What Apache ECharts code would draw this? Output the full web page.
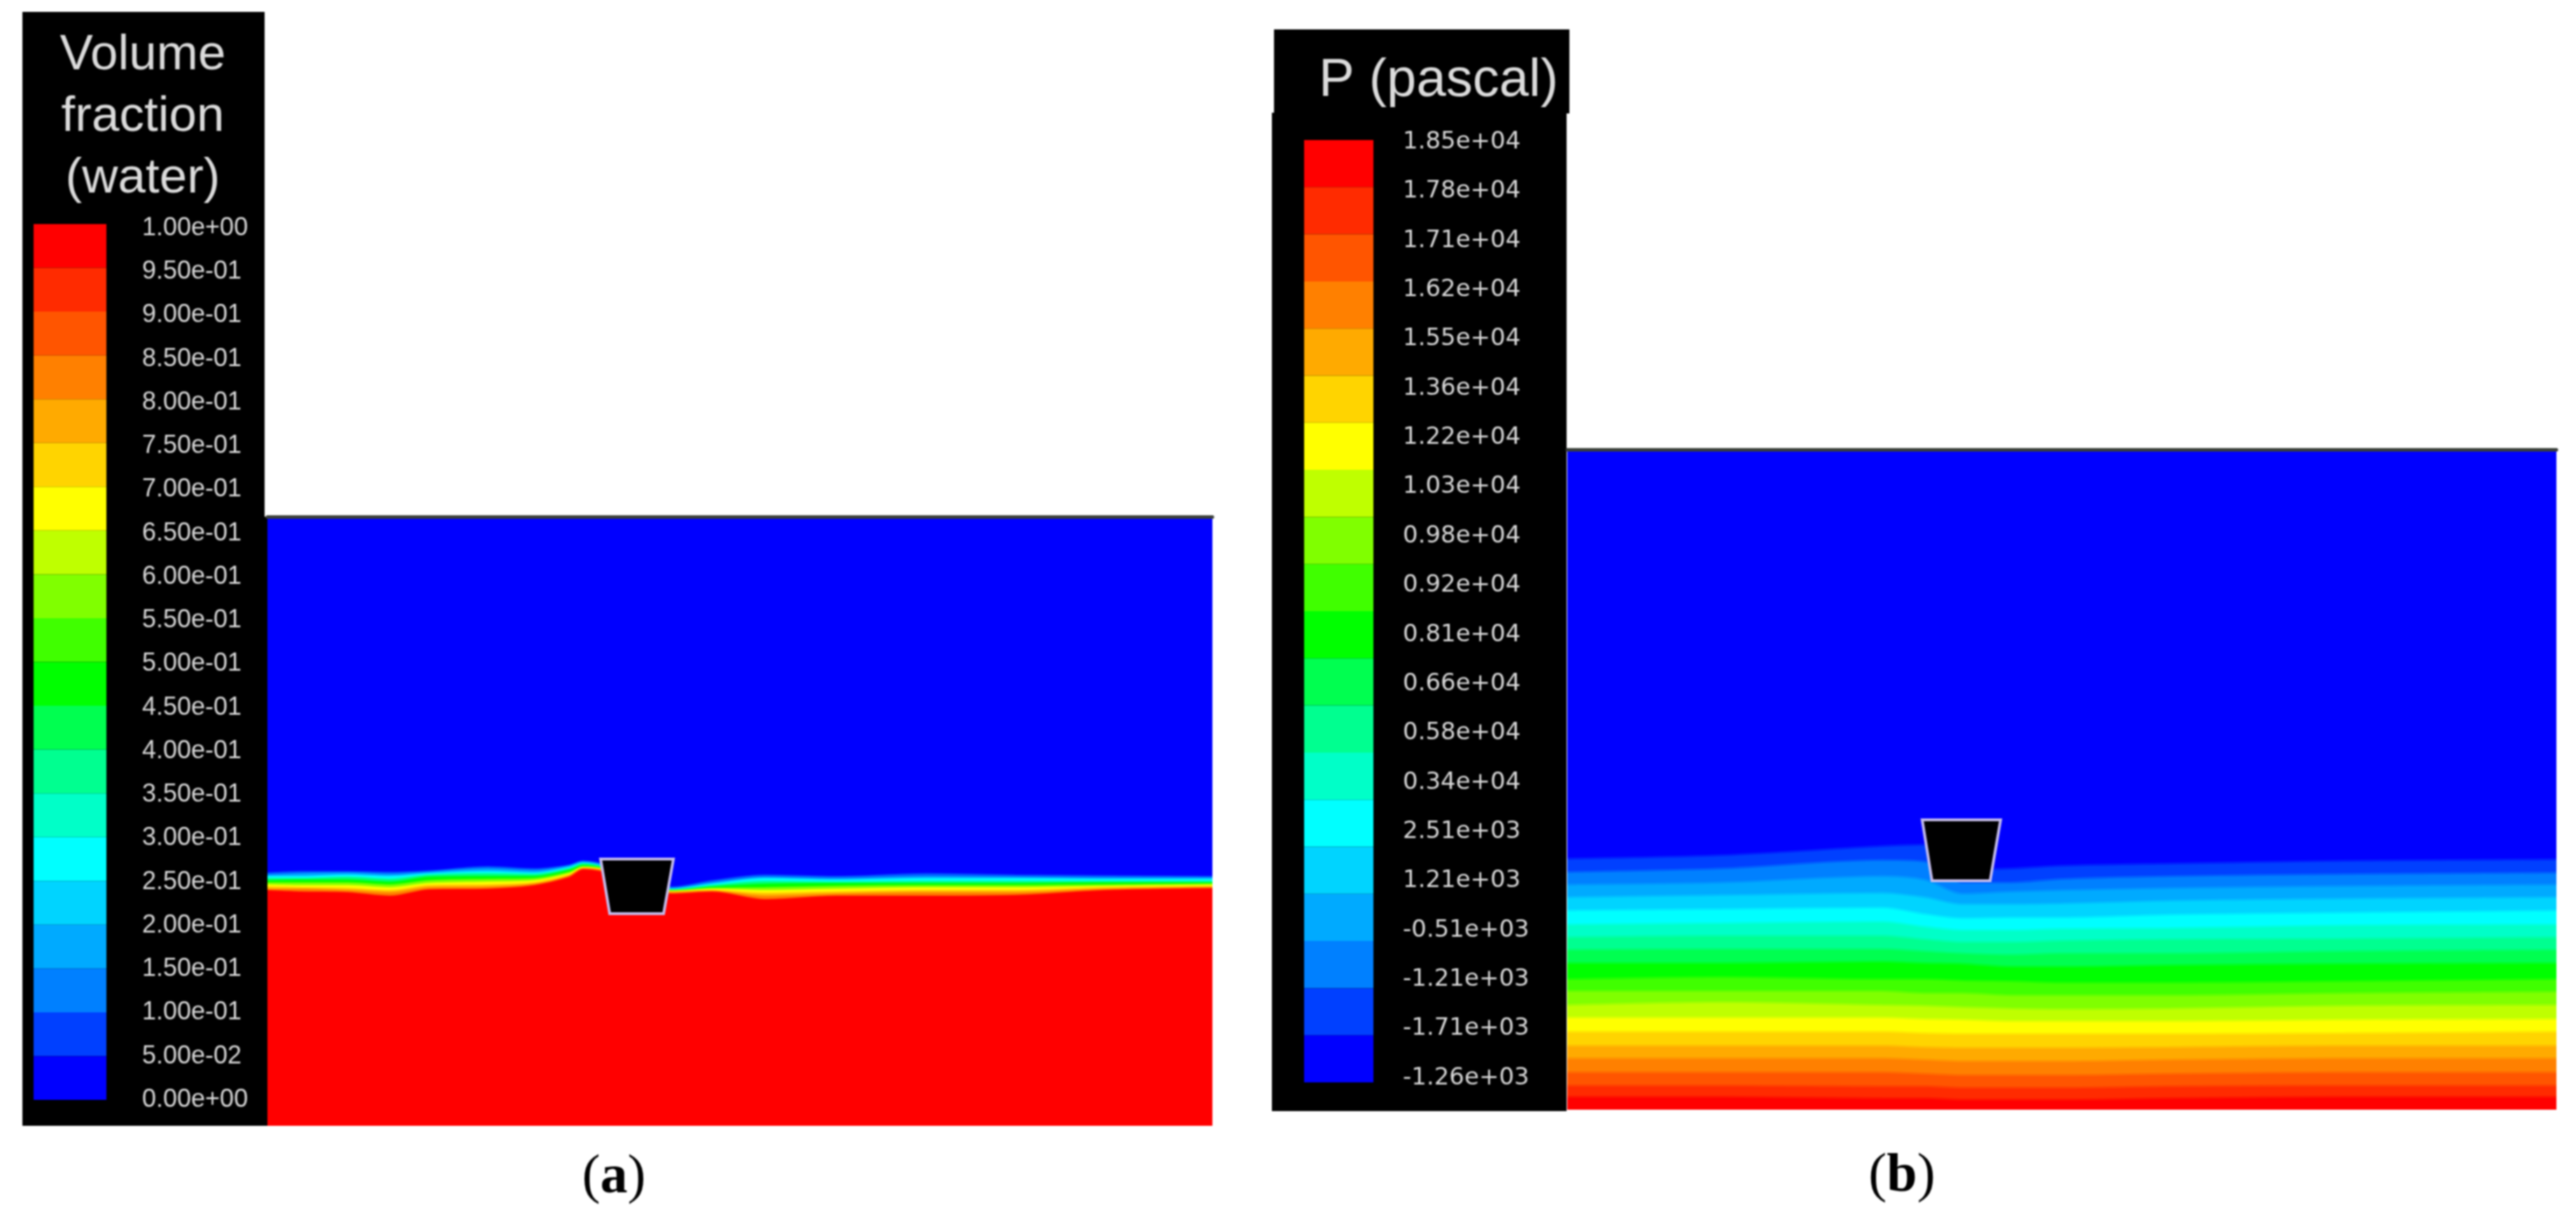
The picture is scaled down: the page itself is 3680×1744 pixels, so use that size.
<!DOCTYPE html>
<html>
<head>
<meta charset="utf-8">
<title>Volume fraction and pressure contours</title>
<script src="https://cdn.jsdelivr.net/npm/echarts@6/dist/echarts.min.js"></script>
<style>
  html, body { margin: 0; padding: 0; background: #fff; }
  #main { width: 3680px; height: 1744px; filter: blur(1.2px); }
</style>
</head>
<body>
<div id="main"></div>
<script>
// colour bar, top band first
var bandColors = ['#ff0000', '#ff2b00', '#ff5500', '#ff8000', '#ffaa00', '#ffd400', '#ffff00', '#bfff00', '#80ff00', '#40ff00',
  '#00ff00', '#00ff50', '#00ff90', '#00ffc8', '#00ffff', '#00d4ff', '#00aaff', '#0080ff', '#0040ff', '#0000ff'];

var volumeLabels = ['1.00e+00', '9.50e-01', '9.00e-01', '8.50e-01', '8.00e-01', '7.50e-01', '7.00e-01', '6.50e-01', '6.00e-01', '5.50e-01',
  '5.00e-01', '4.50e-01', '4.00e-01', '3.50e-01', '3.00e-01', '2.50e-01', '2.00e-01', '1.50e-01', '1.00e-01', '5.00e-02', '0.00e+00'];

var pressureLabels = ['1.85e+04', '1.78e+04', '1.71e+04', '1.62e+04', '1.55e+04', '1.36e+04', '1.22e+04', '1.03e+04', '0.98e+04', '0.92e+04',
  '0.81e+04', '0.66e+04', '0.58e+04', '0.34e+04', '2.51e+03', '1.21e+03', '-0.51e+03', '-1.21e+03', '-1.71e+03', '-1.26e+03'];

// panel (a): water surface, height above the tank floor at each station
var volumeX = [0, 48, 115, 175, 231, 315, 381, 431, 451, 485, 578, 635, 711, 813, 941, 1068, 1196, 1350];
var volumeBlue = [361, 363, 363, 362, 364, 370, 367, 372, 378, 372, 341, 350, 358, 356, 360, 358, 357, 356];
var volumeSky = [358, 360, 361, 359, 362, 367, 364, 371, 377, 371, 339, 347, 355, 353, 356, 355, 354, 354];
var volumeCyan = [356, 356, 358, 356, 360, 363, 361, 369, 375, 369, 338, 345, 353, 351, 353, 353, 352, 352];
var volumeSpring = [353, 353, 355, 352, 358, 360, 359, 367, 374, 368, 337, 343, 349, 348, 349, 349, 349, 349];
var volumeGreen = [350, 351, 351, 348, 355, 356, 356, 365, 372, 367, 336, 341, 345, 346, 346, 346, 347, 347];
var volumeLime = [347, 347, 347, 344, 350, 352, 353, 362, 370, 366, 335, 339, 340, 342, 343, 343, 344, 345];
var volumeYellow = [344, 343, 343, 340, 346, 348, 350, 360, 369, 365, 335, 338, 336, 338, 340, 340, 342, 344];
var volumeAmber = [341, 340, 339, 336, 343, 344, 347, 358, 368, 364, 334, 336, 332, 334, 336, 336, 340, 342];
var volumeOrange = [338, 338, 336, 333, 340, 341, 345, 356, 367, 363, 333, 335, 328, 331, 333, 333, 338, 340];
var volumeRed = [336, 334, 333, 328, 337, 338, 343, 355, 366, 361, 331, 334, 323, 328, 328, 329, 336, 339];

// panel (b): pressure contour heights above the tank floor
var pressureX = [0, 221, 450, 510, 565, 634, 707, 861, 1111, 1413];
var contour1 = [357, 362, 375, 377, 342, 343, 347, 350, 354, 356];
var contour2 = [338, 343, 355, 353, 323, 323, 328, 332, 335, 337];
var contour3 = [320, 323, 332, 327, 307, 310, 312, 315, 318, 320];
var contour4 = [302, 305, 308, 302, 292, 292, 293, 297, 300, 302];
var contour5 = [283, 285, 287, 278, 272, 273, 273, 277, 280, 283];
var contour6 = [263, 265, 267, 260, 255, 255, 257, 258, 262, 263];
var contour7 = [245, 247, 247, 242, 238, 238, 240, 242, 243, 245];
var contour8 = [227, 228, 228, 225, 222, 220, 222, 222, 225, 227];
var contour9 = [208, 208, 210, 208, 207, 203, 203, 205, 207, 208];
var contour10 = [185, 188, 185, 185, 183, 182, 180, 180, 182, 185];
var contour11 = [168, 168, 168, 165, 165, 162, 162, 162, 165, 167];
var contour12 = [148, 152, 148, 147, 145, 143, 142, 143, 147, 148];
var contour13 = [130, 130, 130, 128, 127, 125, 125, 125, 127, 128];
var contour14 = [110, 110, 110, 108, 107, 107, 107, 107, 108, 110];
var contour15 = [90, 90, 90, 88, 87, 87, 87, 88, 90, 90];
var contour16 = [72, 72, 72, 70, 68, 68, 68, 70, 72, 72];
var contour17 = [52, 52, 52, 50, 48, 48, 48, 50, 52, 52];
var contour18 = [33, 33, 32, 32, 30, 30, 30, 32, 33, 33];
var contour19 = [17, 17, 15, 15, 13, 13, 13, 15, 17, 17];

// the floating body in each panel
var bodyAX = [476, 580, 566, 489];
var bodyAY = [381, 381, 303, 303];
var bodyBX = [507, 619, 604, 521];
var bodyBY = [414, 414, 327, 327];

var volumeLayers = [
  [volumeBlue, '#0060ff'], [volumeSky, '#00aaff'], [volumeCyan, '#00ffff'], [volumeSpring, '#00ff80'], [volumeGreen, '#00ff00'],
  [volumeLime, '#80ff00'], [volumeYellow, '#ffff00'], [volumeAmber, '#ffc000'], [volumeOrange, '#ff8000'], [volumeRed, '#ff0000']
];
var pressureLayers = [contour1, contour2, contour3, contour4, contour5, contour6, contour7, contour8, contour9, contour10,
  contour11, contour12, contour13, contour14, contour15, contour16, contour17, contour18, contour19]
  .map(function (c, i) { return [c, bandColors[18 - i]]; });

var grids = [];
var xAxes = [];
var yAxes = [];
var series = [];

function addGrid(g, x, y) {
  grids.push(g);
  x.gridIndex = grids.length - 1;
  y.gridIndex = grids.length - 1;
  xAxes.push(x);
  yAxes.push(y);
  return grids.length - 1;
}

function hiddenAxis(min, max) {
  return { type: 'value', show: false, min: min, max: max };
}

// black legend backgrounds
function addBox(left, top, width, height) {
  addGrid({ left: left, top: top, width: width, height: height, show: true, backgroundColor: '#000', borderWidth: 0 },
    hiddenAxis(0, 1), hiddenAxis(0, 1));
}

function addColorBar(left, width, top, height) {
  var idx = addGrid({ left: left, width: width, top: top, height: height },
    hiddenAxis(0, 1),
    { type: 'category', show: false, inverse: true, data: bandColors });
  series.push({
    type: 'bar',
    xAxisIndex: idx,
    yAxisIndex: idx,
    barWidth: '100%',
    silent: true,
    data: bandColors.map(function (c) { return { value: 1, itemStyle: { color: c } }; })
  });
}

function addLabels(labels, left, top, height, margin, font, size) {
  addGrid({ left: left, width: 1, top: top, height: height },
    hiddenAxis(0, 1),
    {
      type: 'value',
      position: 'right',
      inverse: true,
      min: 0,
      max: labels.length - 1,
      interval: 1,
      axisLine: { show: false },
      axisTick: { show: false },
      splitLine: { show: false },
      axisLabel: {
        margin: margin,
        color: '#d8d8d8',
        fontFamily: font,
        fontSize: size,
        hideOverlap: false,
        formatter: function (v) { return labels[v]; }
      }
    });
}

function addPanel(left, top, width, height, xs, layers, bodyX, bodyY, soften) {
  var idx = addGrid({ left: left, top: top, width: width, height: height, show: true, backgroundColor: '#0000ff', borderWidth: 0 },
    {
      type: 'value', position: 'top', min: 0, max: width,
      axisLine: { show: true, onZero: false, lineStyle: { color: '#3a3f3a', width: 5 } },
      axisTick: { show: false }, axisLabel: { show: false }, splitLine: { show: false }
    },
    hiddenAxis(0, height));
  layers.forEach(function (layer) {
    series.push({
      type: 'line',
      xAxisIndex: idx,
      yAxisIndex: idx,
      smooth: 0.3,
      showSymbol: false,
      silent: true,
      // half-transparent stroke softens the edge between two contour bands
      lineStyle: { color: layer[1], width: soften, opacity: 0.5 },
      areaStyle: { color: layer[1], opacity: 1, origin: 'start' },
      data: xs.map(function (x, i) { return [x, layer[0][i]]; })
    });
  });
  series.push({
    type: 'custom',
    xAxisIndex: idx,
    yAxisIndex: idx,
    silent: true,
    clip: false,
    z: 5,
    data: [[bodyX[0], bodyY[0]]],
    renderItem: function (params, api) {
      return {
        type: 'polygon',
        shape: { points: bodyX.map(function (x, i) { return api.coord([x, bodyY[i]]); }) },
        style: { fill: '#000', stroke: '#c4bcec', lineWidth: 4 }
      };
    }
  });
}

addBox(32, 17, 346, 1591);
addBox(378, 738, 4, 870);
addBox(1820, 42, 422, 120);
addBox(1817, 161, 421, 1426);

addPanel(382, 738, 1350, 870, volumeX, volumeLayers, bodyAX, bodyAY, 3);
addPanel(2239, 642, 1413, 943, pressureX, pressureLayers, bodyBX, bodyBY, 6);

addColorBar(48, 104, 320, 1251);
addLabels(volumeLabels, 151, 326, 1245, 51, 'Liberation Sans', 36);
addColorBar(1863, 99, 200, 1346);
addLabels(pressureLabels, 1962, 203, 1337, 41, 'DejaVu Sans', 34);

var titleFont = 'Liberation Sans';
var captionStyle = {
  color: '#000',
  fontFamily: 'Liberation Serif',
  fontWeight: 'normal',
  fontSize: 78,
  lineHeight: 100,
  rich: { b: { color: '#000', fontFamily: 'Liberation Serif', fontWeight: 'bold', fontSize: 78, lineHeight: 100 } }
};

var option = {
  animation: false,
  backgroundColor: '#fff',
  title: [
    {
      text: 'Volume\nfraction\n(water)', left: 204, top: 35, textAlign: 'center', padding: 0,
      textStyle: { color: '#dcdcdc', fontFamily: titleFont, fontWeight: 'normal', fontSize: 71, lineHeight: 88 }
    },
    {
      text: 'P (pascal)', left: 1884, top: 71, padding: 0,
      textStyle: { color: '#dcdcdc', fontFamily: titleFont, fontWeight: 'normal', fontSize: 76, lineHeight: 90 }
    },
    { text: '({b|a})', left: 877, top: 1633, textAlign: 'center', padding: 0, textStyle: captionStyle },
    { text: '({b|b})', left: 2717, top: 1631, textAlign: 'center', padding: 0, textStyle: captionStyle }
  ],
  grid: grids,
  xAxis: xAxes,
  yAxis: yAxes,
  series: series
};

var chart = echarts.init(document.getElementById('main'));
chart.setOption(option);
</script>
</body>
</html>
